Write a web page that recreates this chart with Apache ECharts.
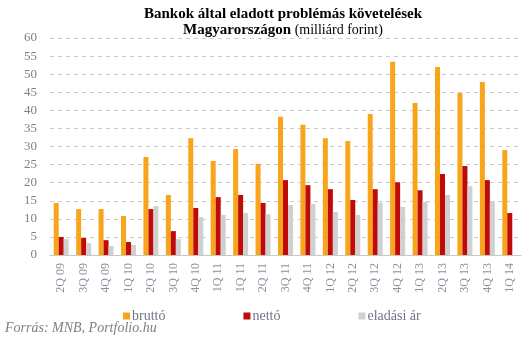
<!DOCTYPE html>
<html>
<head>
<meta charset="utf-8">
<script src="https://cdn.jsdelivr.net/npm/echarts@6/dist/echarts.min.js"></script>
<style>html,body{margin:0;padding:0;background:#fff;}#c{width:531px;height:342px;}</style>
</head>
<body>
<div id="c"></div>
<script>
var categories = ['2Q 09','3Q 09','4Q 09','1Q 10','2Q 10','3Q 10','4Q 10','1Q 11','1Q 11','2Q 11','3Q 11','4Q 11','1Q 12','2Q 12','3Q 12','4Q 12','1Q 13','2Q 13','3Q 13','4Q 13','1Q 14'];
var brutto = [14.4,12.7,12.7,10.8,27.1,16.6,32.3,26.0,29.3,25.2,38.2,36.0,32.3,31.5,39.0,53.4,42.0,52.0,44.8,47.8,29.0];
var netto = [5.0,4.7,4.1,3.6,12.7,6.6,13.0,16.0,16.6,14.4,20.7,19.3,18.2,15.2,18.2,20.1,17.9,22.4,24.6,20.7,11.6];
var eladasiAr = [4.4,3.3,2.5,2.8,13.5,4.4,10.5,11.1,11.6,11.3,13.8,14.1,11.9,11.1,14.5,13.3,14.7,16.6,19.1,14.7,null];
var seriesNames = ['bruttó','nettó','eladási ár'];

var serif = '"Liberation Serif","DejaVu Serif",serif';
var chart = echarts.init(document.getElementById('c'));
chart.setOption({
  animation: false,
  backgroundColor: '#ffffff',
  title: {
    left: 278, textAlign: 'center', top: 1,
    text: '{b|Bankok által eladott problémás követelések}\n{b|Magyarországon}{n| (milliárd forint)}',
    textStyle: {
      rich: {
        b: {fontFamily: serif, fontWeight: 'bold', fontSize: 15, color: '#000', lineHeight: 16},
        n: {fontFamily: serif, fontWeight: 'normal', fontSize: 14, color: '#000', lineHeight: 16}
      }
    }
  },
  graphic: [{
    type: 'text', left: 5, top: 321,
    style: {text: 'Forrás: MNB, Portfolio.hu', font: 'italic 14px ' + serif, fill: '#7f7f7f'}
  }],
  legend: {
    data: seriesNames, left: 118, top: 304, itemGap: 78,
    itemWidth: 7, itemHeight: 7, icon: 'rect',
    textStyle: {fontFamily: serif, fontSize: 14, color: '#6f7585', padding: [0,0,0,-3]}
  },
  grid: {left: 50, right: 10, top: 38, bottom: 87, containLabel: false},
  xAxis: {
    type: 'category', data: categories,
    axisLine: {lineStyle: {color: '#c8c8c8', width: 1}},
    axisTick: {show: false},
    axisLabel: {rotate: 90, interval: 0, margin: 8, fontFamily: serif, fontSize: 12, color: '#8a90a0'}
  },
  yAxis: {
    type: 'value', min: 0, max: 60, interval: 5,
    axisLine: {show: false}, axisTick: {show: false},
    splitLine: {lineStyle: {type: [4,4], color: '#cccccc'}},
    axisLabel: {margin: 13, fontFamily: serif, fontSize: 13, color: '#80808a'}
  },
  series: [
    {name: seriesNames[0], type: 'bar', data: brutto, barWidth: 5, barGap: '0%', itemStyle: {color: '#F9A51B'}},
    {name: seriesNames[1], type: 'bar', data: netto, barWidth: 5, barGap: '0%', itemStyle: {color: '#C00A0A'}},
    {name: seriesNames[2], type: 'bar', data: eladasiAr, barWidth: 5, barGap: '0%', itemStyle: {color: '#D0D0D0'}}
  ]
});
</script>
</body>
</html>
